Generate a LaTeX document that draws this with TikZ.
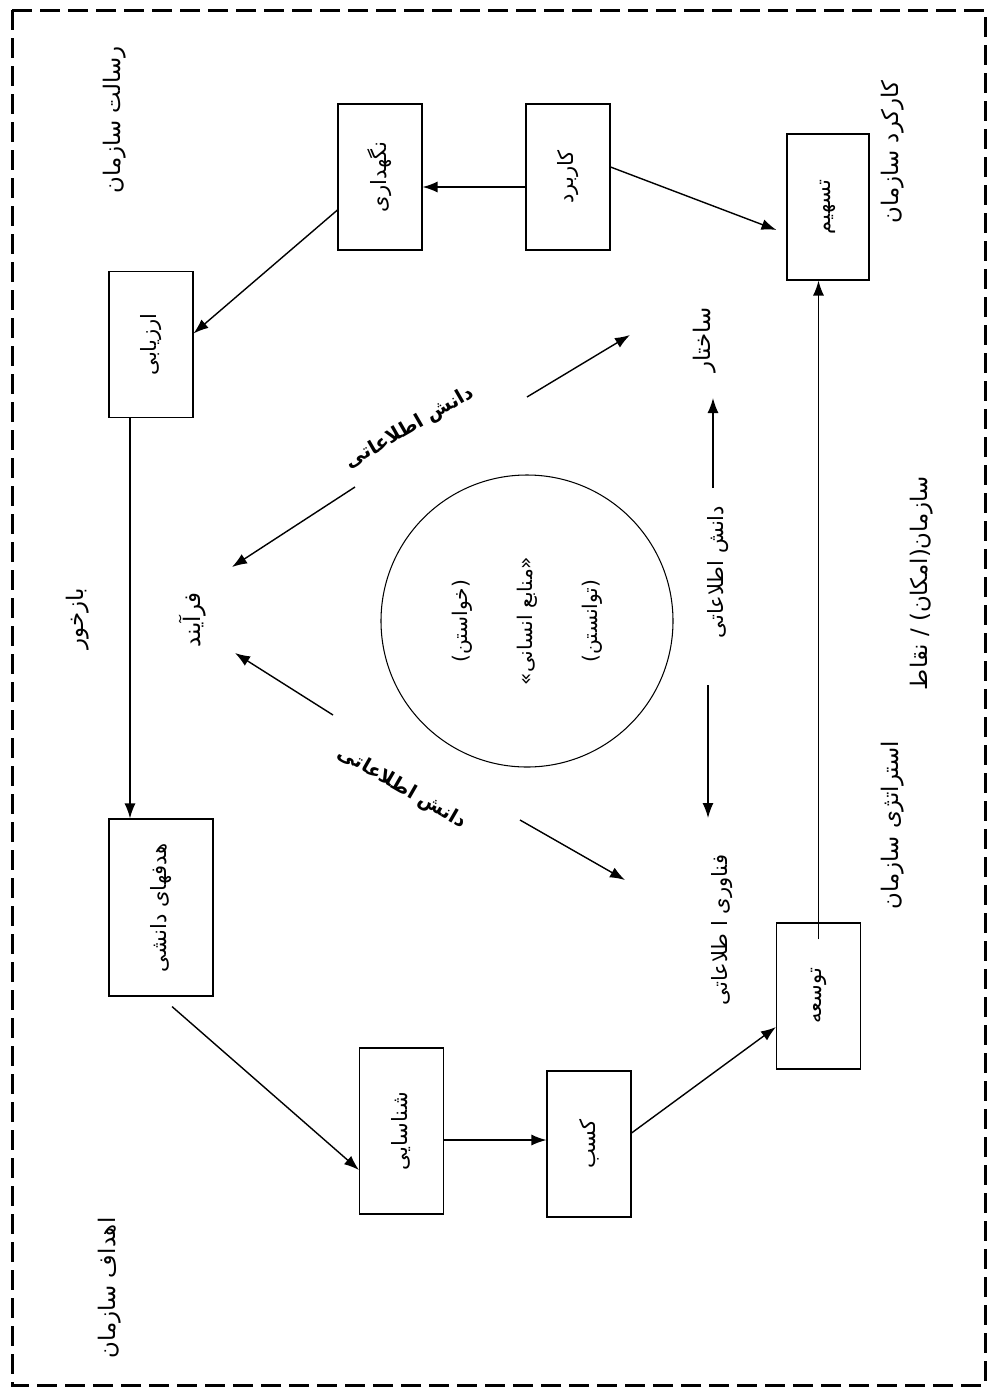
\documentclass[tikz,border=0pt]{standalone}
\usepackage{fontspec}
\usepackage{graphicx}
\usetikzlibrary{arrows.meta}
\newfontfamily\farsi[Script=Arabic]{DejaVu Sans}
\TeXXeTstate=1
\newcommand{\fa}[1]{{\farsi\beginR #1\endR}}
\newcommand{\upfa}[1]{\rotatebox{90}{\fa{#1}}}

\begin{document}
\begin{tikzpicture}[x=0.2mm,y=-0.2mm,>={Latex[length=3mm,width=2.2mm]},
    box/.style={draw,line width=0.6pt,inner sep=0pt,minimum width=16.8mm,minimum height=29.2mm,font=\fontsize{12}{14}\selectfont},
    lbl/.style={rotate=90,inner sep=1pt,font=\fontsize{13}{15}\selectfont},
    boldlbl/.style={inner sep=1pt,font=\fontsize{11}{13}\selectfont\bfseries},
    link/.style={->,line width=0.8pt}]
        \useasboundingbox (0,0) rectangle (989,1387);
        \draw[line width=0.6mm,dash pattern=on 4mm off 1.6mm] (12,10) rectangle (985,1385);

        % boxes
        \node[box] (negah) at (380,177) {\upfa{نگهداری}};
        \node[box] (kar) at (568,177) {\upfa{کاربرد}};
        \node[box,minimum width=16.4mm] (tas) at (828,207) {\upfa{تسهیم}};
        \node[box] (arz) at (151,344.5) {\upfa{ارزیابی}};
        \node[box,minimum width=20.8mm,minimum height=35.4mm] (hadaf) at (161,907.5) {\upfa{هدفهای دانشی}};
        \node[box,minimum height=33.2mm] (shen) at (401.5,1131) {\upfa{شناسایی}};
        \node[box] (kasb) at (589,1144) {\upfa{کسب}};
        \node[box] (tose) at (818.5,996) {\upfa{توسعه}};

        % circle
        \node[draw,circle,rotate=90,line width=0.6pt,minimum size=58.4mm,align=center,font=\fontsize{11.5}{37}\selectfont] (ensan) at (527,621)
            {\fa{(خواستن)}\\\fa{«منابع انسانی»}\\\fa{(توانستن)}};

        % labels
        \node[lbl] (resalat) at (115,120) {\fa{رسالت سازمان}};
        \node[lbl] (karkard) at (893,152) {\fa{کارکرد سازمان}};
        \node[lbl] (bazkhor) at (78,619) {\fa{بازخور}};
        \node[lbl] (farayand) at (193,620) {\fa{فرآیند}};
        \node[lbl] (ahdaf) at (110,1288) {\fa{اهداف سازمان}};
        \node[lbl] (strat) at (893,825) {\fa{استراتژی سازمان}};
        \node[lbl] (emkan) at (922,583) {\fa{سازمان(امکان) / نقاط}};
        \node[lbl] (sakhtar) at (705,340) {\fa{ساختار}};
        \node[lbl,font=\fontsize{12}{14}\selectfont] (danesh) at (718,572) {\fa{دانش اطلاعاتی}};
        \node[lbl,font=\fontsize{12}{14}\selectfont] (fanavari) at (722,930) {\fa{فناوری ا طلاعاتی}};
        \node[boldlbl,rotate=30] (danup) at (410,428) {\fa{دانش اطلاعاتی}};
        \node[boldlbl,rotate=-30] (danlow) at (402,788) {\fa{دانش اطلاعاتی}};

        % cycle
        \coordinate (arzb) at ([xshift=-4.2mm]arz.south);
        \coordinate (shenr) at ([yshift=-1.8mm]shen.east);
        \draw[link] ([yshift=-2mm]kar.west) -- ([yshift=-2mm]negah.east);
        \draw[link] ([yshift=-6.6mm]negah.west) -- ([yshift=2.2mm]arz.east);
        \draw[link] (arzb) -- (arzb |- hadaf.north);
        \draw[link] ([shift={(2.2mm,-2mm)}]hadaf.south) -- ([yshift=-7.8mm]shen.west);
        \draw[link] (shenr) -- (shenr -| kasb.west);
        \draw[link] ([yshift=2.2mm]kasb.east) -- ([yshift=-6.2mm]tose.west);
        \draw[link] ([yshift=-3.4mm]tose.north) -- (tose.north |- tas.south);
        \draw[link] ([yshift=2mm]kar.east) -- ([shift={(-2mm,-4.6mm)}]tas.west);

        % arrows round the circle
        \coordinate (u1) at (527,397);
        \coordinate (u2) at (630,335);
        \coordinate (u3) at (355,487);
        \coordinate (u4) at (232,567);
        \coordinate (l1) at (333,715);
        \coordinate (l2) at (235,653);
        \coordinate (l3) at (520,820);
        \coordinate (l4) at (625,880);
        \coordinate (v1) at (713,488);
        \coordinate (v2) at (713,398);
        \coordinate (v3) at (708,685);
        \coordinate (v4) at (708,818);
        \draw[link] (u1) -- (u2);
        \draw[link] (u3) -- (u4);
        \draw[link] (l1) -- (l2);
        \draw[link] (l3) -- (l4);
        \draw[link] (v1) -- (v2);
        \draw[link] (v3) -- (v4);
\end{tikzpicture}
\end{document}
